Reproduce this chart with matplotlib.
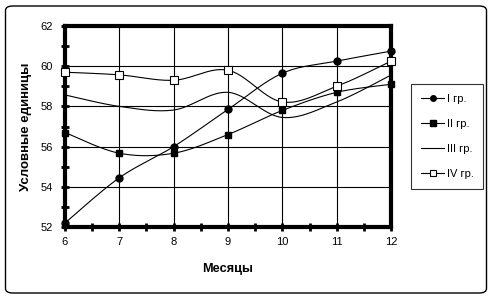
import numpy as np
import matplotlib
matplotlib.use("Agg")
import matplotlib.pyplot as plt
from matplotlib.patches import FancyBboxPatch

plt.rcParams['font.family'] = ['Liberation Sans', 'DejaVu Sans']

months = [6, 7, 8, 9, 10, 11, 12]
gr1 = [52.2, 54.45, 56.0, 57.85, 59.65, 60.25, 60.75]
gr2 = [56.7, 55.67, 55.67, 56.6, 57.8, 58.7, 59.1]
gr3 = [58.57, 58.0, 57.82, 58.7, 57.45, 58.22, 59.56]
gr4 = [59.7, 59.57, 59.3, 59.8, 58.22, 59.0, 60.25]
labels = ['I гр.', 'II гр.', 'III гр.', 'IV гр.']
x_ticks = [6, 7, 8, 9, 10, 11, 12]
y_ticks = [52, 54, 56, 58, 60, 62]

W, H = 493, 299
fig = plt.figure(figsize=(W / 100, H / 100), dpi=100)

# outer rounded border
border = FancyBboxPatch((5.5 / W, 6 / H), 481 / W, 287 / H,
                        boxstyle="round,pad=0,rounding_size=0.015",
                        transform=fig.transFigure, fill=False,
                        edgecolor='black', linewidth=1.0)
fig.patches.append(border)

ax = fig.add_axes([65 / W, (H - 227) / H, 326 / W, 201 / H])


def smooth(xs, ys, n=30):
    pts = np.column_stack([xs, ys]).astype(float)
    P = np.vstack([pts[0], pts, pts[-1]])
    out = []
    for i in range(1, len(P) - 2):
        p0, p1, p2, p3 = P[i - 1], P[i], P[i + 1], P[i + 2]
        b1 = p1 + (p2 - p0) / 6.0
        b2 = p2 - (p3 - p1) / 6.0
        t = np.linspace(0, 1, n)[:, None]
        seg = ((1 - t) ** 3) * p1 + 3 * ((1 - t) ** 2) * t * b1 + 3 * (1 - t) * t ** 2 * b2 + t ** 3 * p2
        out.append(seg if i == 1 else seg[1:])
    out = np.vstack(out)
    return out[:, 0], out[:, 1]


styles = [
    dict(marker='o', ms=5, mfc='black', mec='black'),
    dict(marker='s', ms=5, mfc='black', mec='black'),
    dict(marker=None),
    dict(marker='s', ms=5.5, mfc='white', mec='black', mew=0.8),
]
series = [gr1, gr2, gr3, gr4]
for ys, st, lab in zip(series, styles, labels):
    sx, sy = smooth(months, ys)
    ax.plot(sx, sy, color='black', lw=0.8, zorder=3)
    if st.get('marker'):
        ax.plot(months, ys, linestyle='none', zorder=4, clip_on=False,
                **st)
    leg_st = dict(st)
    if leg_st.get('marker'):
        leg_st['ms'] = leg_st['ms'] - 1
    ax.plot([], [], color='black', lw=0.8, label=lab, **leg_st)

ax.set_xlim(6, 12)
ax.set_ylim(52, 62)
ax.set_xticks(x_ticks)
ax.set_yticks(y_ticks)
ax.set_xticks(np.arange(6.5, 12, 1), minor=True)
ax.set_yticks(np.arange(53, 62, 2), minor=True)
ax.grid(True, which='major', color='black', lw=0.8)
ax.set_axisbelow(True)
for s in ax.spines.values():
    s.set_linewidth(3)
ax.tick_params(which='both', direction='inout', length=6, width=2,
               labelsize=8, pad=4)
ax.tick_params(axis='y', pad=6)
ax.set_xlabel('Месяцы', fontsize=9.2, fontweight='bold', labelpad=12)
ax.set_ylabel('Условные единицы', fontsize=9.5, fontweight='bold', labelpad=6)

leg = fig.legend(loc='upper left', bbox_to_anchor=(411 / W, 1 - 84 / H),
                 frameon=True, fancybox=False, fontsize=8,
                 handlelength=2.1, handletextpad=0.2, labelspacing=1.35,
                 borderpad=0.9, borderaxespad=0)
leg.get_frame().set_edgecolor('black')
leg.get_frame().set_linewidth(0.8)

fig.savefig('out.png', dpi=100)
